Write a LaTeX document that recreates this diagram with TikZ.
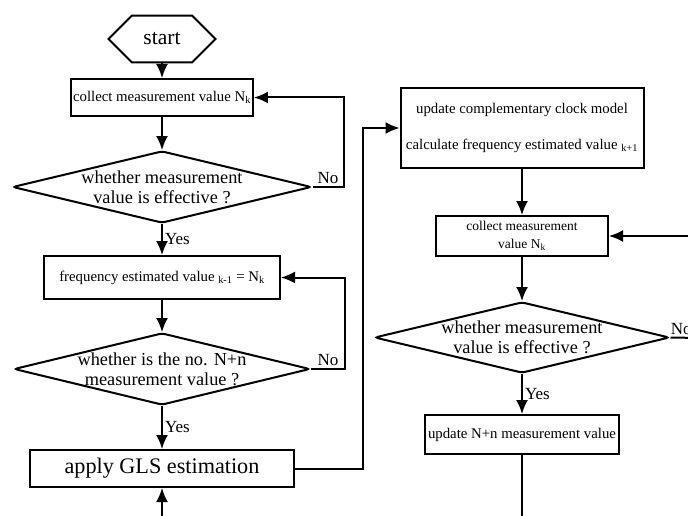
\documentclass[tikz,border=0pt]{standalone}
\usepackage{fontspec}
\setmainfont{Liberation Serif}
\usetikzlibrary{shapes.geometric, shapes.misc, arrows.meta}

\tikzset{
  procbox/.style={draw, line width=2pt, inner sep=2pt, align=center, font=\fontsize{14.8}{18}\selectfont},
  decision/.style={diamond, draw, line width=2pt, aspect=4.15, inner xsep=-30pt, inner ysep=-15pt,
    rounded corners=3pt, align=center, font=\fontsize{18.3}{20}\selectfont},
  terminal/.style={chamfered rectangle, draw, line width=2pt, chamfered rectangle xsep=23pt,
    chamfered rectangle ysep=14pt, minimum width=107pt, minimum height=28pt, font=\fontsize{21.5}{22}\selectfont},
  flow/.style={line width=2pt, -{Latex[length=14pt,width=12pt]}},
  plain/.style={line width=2pt},
  answer/.style={font=\fontsize{17}{17}\selectfont, inner sep=2pt},
}

\begin{document}
\begin{tikzpicture}[x=1pt, y=-1pt]
\useasboundingbox (0,0) rectangle (688,516);

% left column
\node[terminal] (start) at (162,39) {start};
\node[procbox, minimum width=181pt, minimum height=37pt] (collect) at (162,97.5) {collect measurement value N\textsubscript{k}};
\node[decision, minimum width=299pt, minimum height=72pt] (check) at (162,187) {whether measurement\\value is effective ?};
\node[procbox, minimum width=236pt, minimum height=43pt] (estim) at (162,277.5) {frequency estimated value \textsubscript{k-1} = N\textsubscript{k}};
\node[decision, minimum width=296pt, minimum height=72pt] (checkn) at (162,369) {whether is the no. N+n\\measurement value ?};
\node[procbox, minimum width=264pt, minimum height=37pt, font=\fontsize{22.2}{24}\selectfont] (gls) at (162,468.5) {apply GLS estimation};

% right column
\node[procbox, minimum width=243pt, minimum height=80pt] (update) at (522,128) {update complementary clock model\\[18pt]calculate frequency estimated value \textsubscript{k+1}};
\node[procbox, minimum width=172pt, minimum height=40pt, font=\fontsize{13.5}{18}\selectfont] (collectb) at (522,236) {collect measurement\\value N\textsubscript{k}};
\node[decision, minimum width=295pt, minimum height=71pt] (checkb) at (522,337.5) {whether measurement\\value is effective ?};
\node[procbox, minimum width=194pt, minimum height=39pt] (updn) at (522,434.5) {update N+n measurement value};

% loose ends
\coordinate (glsin) at (162,530);
\coordinate (rightin) at (700,236);
\coordinate (rightout) at (700,338);
\coordinate (downout) at (522,530);

% connectors
\draw[flow] (start) -- (collect);
\draw[flow] (collect) -- (check);
\draw[flow] (check.east) -- node[answer, above] {No} ++(31,0) |- (collect.east);
\draw[flow] (check) -- node[answer, right] {Yes} (estim);
\draw[flow] (estim) -- (checkn);
\draw[flow] (checkn.east) -- node[answer, above] {No} ++(34,0) |- (estim.east);
\draw[flow] (checkn) -- node[answer, right] {Yes} (gls);
\draw[flow] (glsin) -- (gls.south);
\draw[flow] (gls.east) -- ++(68,0) |- (update.west);

\draw[flow] (update) -- (collectb);
\draw[flow] (rightin) -- (collectb.east);
\draw[flow] (collectb) -- (checkb);
\draw[plain] (checkb.east) -- node[answer, above, xshift=-4pt] {No} (rightout);
\draw[flow] (checkb) -- node[answer, right] {Yes} (updn);
\draw[plain] (updn) -- (downout);
\end{tikzpicture}
\end{document}
